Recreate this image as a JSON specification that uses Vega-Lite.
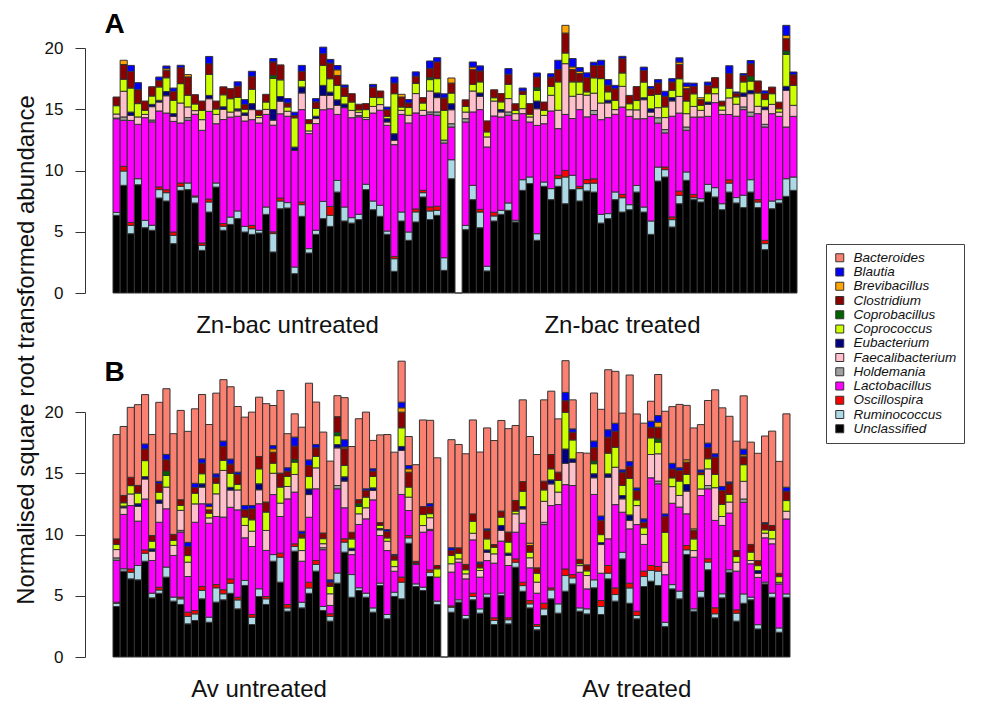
{
"$schema": "https://vega.github.io/schema/vega-lite/v6.json",
"background": "white",
"padding": {"left": 14, "top": 11, "right": 5, "bottom": 5},
"bounds": "flush",
"spacing": 119,
"config": {"view": {"stroke": null}, "font": "Liberation Sans", "axis": {"labelFont": "Liberation Sans", "titleFont": "Liberation Sans"}, "legend": {"labelFont": "Liberation Sans"}},
"resolve": {"scale": {"x": "independent", "y": "independent", "color": "shared"}},
"datasets": {
"genera": [
{"g":"U","genus":"Unclassified"},{"g":"Ru","genus":"Ruminococcus"},{"g":"O","genus":"Oscillospira"},{"g":"L","genus":"Lactobacillus"},{"g":"H","genus":"Holdemania"},{"g":"F","genus":"Faecalibacterium"},{"g":"E","genus":"Eubacterium"},{"g":"Cc","genus":"Coprococcus"},{"g":"Cb","genus":"Coprobacillus"},{"g":"Cl","genus":"Clostridium"},{"g":"Br","genus":"Brevibacillus"},{"g":"Bl","genus":"Blautia"},{"g":"Ba","genus":"Bacteroides"}
],
"a": [
{"i":0,"U":6.34,"Ru":0.24,"L":7.65,"H":0.05,"F":0.33,"Cc":0.68,"Cl":0.71},
{"i":1,"U":8.79,"Ru":1.17,"O":0.38,"L":3.76,"H":0.27,"F":2.1,"Cc":0.98,"Cl":1.2,"Br":0.35},
{"i":2,"U":4.84,"Ru":0.68,"O":0.24,"L":8.33,"F":0.41,"E":0.27,"Cc":1.96,"Cl":1.36,"Bl":0.49},
{"i":3,"U":8.84,"Ru":0.49,"L":4.44,"F":0.6,"Cc":1.09,"Cl":1.14,"Bl":0.57},
{"i":4,"U":5.33,"Ru":0.6,"L":8.38,"F":0.27,"Cc":0.33,"Cl":0.76},
{"i":5,"U":5.12,"Ru":0.41,"L":8.44,"H":0.15,"F":1.09,"E":0.19,"Cc":0.68,"Cl":0.76},
{"i":6,"U":7.76,"Ru":0.68,"O":0.22,"L":6.2,"F":0.73,"E":0.14,"Cc":1.09,"Cl":0.54,"Bl":0.27},
{"i":7,"U":7.51,"Ru":0.68,"O":0.24,"L":6.26,"F":1.41,"E":0.35,"Cc":1.12,"Cl":0.6,"Br":0.14,"Bl":0.22},
{"i":8,"U":4.03,"Ru":0.68,"O":0.27,"L":9.03,"F":0.41,"E":0.22,"Cc":1.09,"Cl":0.73,"Bl":0.27},
{"i":9,"U":8.38,"Ru":0.33,"O":0.27,"L":4.9,"F":1.63,"Cc":1.58,"Cl":1.31,"Bl":0.19},
{"i":10,"U":8.44,"Ru":0.54,"L":5.12,"H":0.22,"F":0.87,"Cc":0.95,"Cl":1.5,"Br":0.19},
{"i":11,"U":7.35,"Ru":0.49,"O":0.08,"L":6.67,"F":0.3,"Cc":0.54,"Cl":0.76},
{"i":12,"U":3.48,"Ru":0.41,"O":0.19,"L":9.2,"F":0.87,"Cc":0.76,"Cl":0.76},
{"i":13,"U":6.61,"Ru":0.82,"O":0.24,"L":7.16,"F":1.03,"E":0.27,"Cc":1.71,"Cl":0.87,"Bl":0.6},
{"i":14,"U":8.65,"Ru":0.33,"L":4.84,"F":0.76,"Cc":0.44,"Cl":0.65},
{"i":15,"U":5.12,"Ru":0.33,"O":0.22,"L":8.49,"F":0.82,"E":0.22,"Cc":0.98,"Cl":0.65},
{"i":16,"U":5.6,"Ru":0.6,"L":8.16,"F":0.41,"Cc":1.09,"Cl":0.82},
{"i":17,"U":6.07,"Ru":0.63,"L":7.73,"F":0.44,"E":0.16,"Cc":0.93,"Cl":0.93,"Bl":0.35},
{"i":18,"U":4.98,"Ru":0.46,"L":8.6,"F":0.46,"E":0.2,"Cc":0.3,"Cl":0.38,"Bl":0.41},
{"i":19,"U":4.79,"Ru":0.46,"O":0.27,"L":8.63,"F":0.82,"E":0.49,"Cc":1.17,"Cl":1.06,"Bl":0.41},
{"i":20,"U":4.9,"Ru":0.22,"L":8.76,"F":0.44,"Cc":0.19,"Cl":0.41},
{"i":21,"U":6.42,"Ru":0.6,"L":7.56,"F":0.41,"Cc":0.6,"Cl":0.63},
{"i":22,"U":3.35,"Ru":1.5,"O":0.14,"L":8.71,"F":0.41,"E":0.87,"Cc":2.53,"Cb":0.24,"Cl":1.12,"Bl":0.27},
{"i":23,"U":6.88,"Ru":0.63,"O":0.24,"L":6.88,"F":1.03,"E":0.38,"Cc":1.36,"Cl":1.22},
{"i":24,"U":6.94,"Ru":0.44,"L":7.05,"F":0.41,"Cc":0.35,"Cl":0.33,"Bl":0.35},
{"i":25,"U":1.58,"Ru":0.54,"L":9.52,"E":0.27,"Cc":2.39,"Cl":0.19,"Bl":0.27},
{"i":26,"U":6.26,"Ru":0.95,"O":0.22,"L":7.54,"F":1.36,"E":0.49,"Cc":0.54,"Cl":0.73,"Bl":0.49},
{"i":27,"U":3.27,"Ru":0.35,"L":9.39,"F":0.22,"Cc":0.6,"Cl":0.32},
{"i":28,"U":4.79,"Ru":0.33,"L":8.71,"F":0.41,"E":0.19,"Cc":0.63,"Cl":0.54,"Bl":0.27},
{"i":29,"U":6.07,"Ru":1.41,"L":7.48,"F":1.17,"E":0.82,"Cc":1.63,"Cl":0.95,"Bl":0.54},
{"i":30,"U":5.44,"Ru":0.9,"O":0.73,"L":7.97,"F":1.09,"E":0.27,"Cc":1.09,"Cl":1.28,"Bl":0.3},
{"i":31,"U":8.24,"Ru":0.95,"L":5.39,"F":0.73,"E":0.46,"Cc":1.17,"Cl":0.82,"Br":0.46,"Bl":0.35},
{"i":32,"U":5.88,"Ru":1.14,"L":8.11,"E":0.3,"Cc":0.63,"Cl":0.73,"Bl":0.19},
{"i":33,"U":5.71,"Ru":0.44,"L":8.16,"F":0.6,"Cc":0.68,"Cl":0.68},
{"i":34,"U":5.99,"Ru":0.44,"L":7.95,"H":0.1,"F":0.27,"Cc":0.2,"Cl":0.46},
{"i":35,"U":8.44,"Ru":0.44,"L":5.28,"F":0.16,"Cc":0.65,"Cl":0.49},
{"i":36,"U":6.8,"Ru":0.71,"L":7.18,"F":0.54,"Cc":0.73,"Cl":0.85,"Bl":0.22},
{"i":37,"U":6.26,"Ru":0.9,"L":7.76,"F":0.46,"Cc":0.57,"Cl":0.54},
{"i":38,"U":4.79,"Ru":0.27,"L":8.63,"F":0.27,"E":0.27,"Cc":0.19,"Cl":0.54,"Bl":0.22},
{"i":39,"U":1.77,"Ru":1.03,"O":0.19,"L":9.12,"F":0.35,"E":0.54,"Cc":3.27,"Cl":0.87,"Bl":0.49},
{"i":40,"U":5.88,"Ru":0.73,"L":7.97,"F":0.33,"Cc":0.27,"Cl":0.82,"Br":0.22},
{"i":41,"U":4.3,"Ru":0.68,"L":8.9,"F":0.63,"Cc":0.63,"Cl":0.38,"Bl":0.27},
{"i":42,"U":5.8,"Ru":0.82,"O":0.24,"L":7.84,"F":1.58,"Cc":0.82,"Cl":0.6,"Bl":0.35},
{"i":43,"U":7.84,"Ru":0.35,"O":0.19,"L":6.12,"F":0.41,"Cc":0.6,"Cl":0.44},
{"i":44,"U":5.99,"Ru":0.71,"O":0.33,"L":7.56,"H":0.19,"F":1.71,"Cc":0.93,"Cb":0.16,"Cl":0.76,"Bl":0.6},
{"i":45,"U":6.34,"Ru":0.41,"O":0.33,"L":7.43,"H":0.27,"F":1.17,"E":0.38,"Cc":1.17,"Cl":1.36,"Bl":0.35},
{"i":46,"U":1.85,"Ru":1.03,"L":9.36,"H":0.24,"Cc":2.42,"Cl":1.03,"Bl":0.33},
{"i":47,"U":9.33,"Ru":1.55,"L":2.67,"H":0.27,"F":1.14,"E":0.49,"Cc":0.87,"Cl":0.82,"Br":0.41},
{"i":48,"U":0},
{"i":49,"U":5.17,"Ru":0.35,"L":8.44,"H":0.27,"F":0.54,"Cc":0.46,"Cl":0.54},
{"i":50,"U":7.62,"Ru":1.17,"L":5.99,"F":1.71,"Cc":0.54,"Cl":1.2,"Br":0.22,"Bl":0.41},
{"i":51,"U":5.33,"Ru":1.28,"O":0.22,"L":8.14,"F":1.09,"E":0.27,"Cc":0.9,"Cl":0.9,"Bl":0.41},
{"i":52,"U":1.8,"Ru":0.38,"L":9.74,"F":0.82,"Cc":0.41,"Cl":0.9},
{"i":53,"U":5.88,"Ru":0.41,"O":0.3,"L":7.86,"F":1.22,"Cc":0.27,"Cl":0.65},
{"i":54,"U":6.42,"Ru":0.33,"L":7.62,"F":0.41,"E":0.19,"Cc":0.63,"Cl":0.68},
{"i":55,"U":6.75,"Ru":0.6,"L":7.16,"H":0.27,"F":1.09,"Cc":1.17,"Cl":0.82,"Bl":0.46},
{"i":56,"U":5.8,"Ru":0.14,"L":8.16,"F":0.54,"Cc":0.27,"Cl":0.54},
{"i":57,"U":8.38,"Ru":0.87,"L":5.39,"F":0.41,"Cc":1.17,"Cl":0.27,"Bl":0.24},
{"i":58,"U":8.93,"Ru":0.54,"L":4.49,"F":0.41,"Cc":0.22,"Cl":0.87},
{"i":59,"U":4.3,"Ru":0.54,"L":8.84,"F":1.36,"E":0.63,"Cc":0.87,"Cb":0.22,"Cl":0.87,"Bl":0.33},
{"i":60,"U":8.71,"Ru":0.35,"L":4.76,"F":0.68,"Cc":0.41,"Cl":0.68},
{"i":61,"U":7.62,"Ru":0.9,"L":6.34,"F":1.28,"Cc":0.73,"Cl":0.76,"Bl":0.27},
{"i":62,"U":8.71,"Ru":0.63,"O":0.27,"L":3.81,"F":1.5,"Cc":2.31,"Cl":1.01,"Bl":0.76},
{"i":63,"U":7.29,"Ru":2.18,"O":0.54,"L":4.57,"F":4.14,"Cc":0.87,"Cl":1.63,"Br":0.63},
{"i":64,"U":8.44,"Ru":1.17,"L":4.63,"F":1.82,"Cc":1.17,"Cl":1.01,"Br":0.22,"Bl":0.68},
{"i":65,"U":7.51,"Ru":1.01,"O":0.19,"L":6.26,"F":1.25,"Cc":1.01,"Cl":0.68,"Br":0.19,"Bl":0.3},
{"i":66,"U":8.33,"Ru":0.6,"O":0.33,"L":5.12,"F":1.77,"Cc":0.27,"Cl":1.17,"Bl":0.38},
{"i":67,"U":8.24,"Ru":0.73,"O":0.35,"L":5.25,"H":0.33,"F":1.41,"Cc":1.25,"Cl":1.01,"Bl":0.27},
{"i":68,"U":5.71,"Ru":0.71,"L":7.73,"F":1.36,"Cc":1.99,"Cl":1.09,"Bl":0.41},
{"i":69,"U":6.07,"Ru":0.41,"L":7.84,"F":1.2,"E":0.22,"Cc":0.68,"Cl":0.54,"Bl":0.46},
{"i":70,"U":7.62,"Ru":0.63,"L":6.34,"F":0.38,"Cc":0.76,"Cl":0.95,"Bl":0.27},
{"i":71,"U":6.61,"Ru":1.17,"O":0.27,"L":7.13,"F":1.69,"Cc":1.09,"Cl":1.17,"Bl":0.19},
{"i":72,"U":6.8,"Ru":0.41,"L":7.21,"F":0.54,"Cc":0.49,"Cl":0.68},
{"i":73,"U":8.24,"Ru":0.54,"L":5.44,"F":0.73,"Cc":0.76,"Cl":1.14},
{"i":74,"U":6.61,"Ru":0.41,"L":7.21,"F":1.55,"E":0.16,"Cc":1.28,"Cl":0.95,"Bl":0.27},
{"i":75,"U":4.79,"Ru":1.09,"L":8.54,"F":0.35,"E":0.27,"Cc":1.09,"Cl":0.54,"Bl":0.19},
{"i":76,"U":9.14,"Ru":1.14,"L":3.59,"H":0.44,"F":0.82,"Cc":1.09,"Cl":0.93,"Bl":0.27},
{"i":77,"U":9.47,"Ru":0.6,"O":0.22,"L":2.78,"H":0.27,"F":0.98,"Cc":0.87,"Cl":0.87,"Bl":0.41},
{"i":78,"U":5.39,"Ru":0.6,"O":0.22,"L":8.22,"F":1.25,"E":0.27,"Cc":0.6,"Cl":0.68,"Bl":0.27},
{"i":79,"U":7.29,"Ru":0.68,"O":0.35,"L":6.37,"F":1.36,"Cc":1.44,"Cl":1.17,"Br":0.19,"Bl":0.35},
{"i":80,"U":9.2,"Ru":0.68,"L":3.4,"H":0.27,"F":1.09,"Cc":1.03,"Cl":1.01,"Br":0.19,"Bl":0.27},
{"i":81,"U":7.62,"Ru":0.16,"O":0.27,"L":6.31,"F":0.87,"Cc":1.03,"Cl":0.6,"Bl":0.27},
{"i":82,"U":7.43,"Ru":0.27,"L":6.67,"F":0.54,"Cc":0.41,"Cl":0.46,"Br":0.16},
{"i":83,"U":8.24,"Ru":0.63,"L":5.55,"F":0.98,"E":0.19,"Cc":0.68,"Cl":0.68,"Bl":0.27},
{"i":84,"U":7.84,"Ru":0.76,"L":6.94,"F":0.73,"Cc":0.49,"Cl":0.82},
{"i":85,"U":6.8,"Ru":0.49,"L":7.29,"F":0.35,"Cc":0.35,"Cl":0.38},
{"i":86,"U":8.24,"Ru":0.73,"O":0.27,"L":5.33,"F":1.36,"Cc":0.79,"Cl":1.2,"Bl":0.63},
{"i":87,"U":7.35,"Ru":0.44,"L":6.64,"F":0.98,"Cc":0.6,"Cl":0.3,"Bl":0.1},
{"i":88,"U":6.97,"Ru":1.01,"L":6.99,"H":0.22,"F":0.87,"E":0.27,"Cc":0.9,"Cl":0.54,"Bl":0.14},
{"i":89,"U":8.24,"Ru":1.01,"L":5.17,"H":0.35,"F":1.5,"E":0.27,"Cc":0.76,"Cb":0.38,"Cl":1.03,"Bl":0.27},
{"i":90,"U":6.97,"Ru":0.46,"O":0.19,"L":7.02,"F":0.6,"Cc":1.09,"Cl":0.98},
{"i":91,"U":3.54,"Ru":0.49,"O":0.27,"L":9.25,"H":0.22,"F":1.2,"E":0.22,"Cc":0.6,"Cl":0.49,"Bl":0.22},
{"i":92,"U":6.88,"Ru":0.63,"L":7.13,"F":0.76,"Cc":0.87,"Cl":0.54},
{"i":93,"U":7.35,"Ru":0.27,"L":6.8,"F":0.35,"Cc":0.27,"Cl":0.54},
{"i":94,"U":7.89,"Ru":1.44,"L":4.22,"F":2.99,"E":0.33,"Cc":2.61,"Cb":0.27,"Cl":1.01,"Br":0.27,"Bl":0.82},
{"i":95,"U":8.38,"Ru":1.09,"L":4.95,"F":0.9,"Cc":1.63,"Cl":0.87,"Bl":0.22}
],
"b": [
{"i":0,"U":4.12,"Ru":0.27,"O":0.08,"L":3.43,"H":0.19,"F":0.68,"Cc":0.41,"Cl":0.46,"Ba":8.52},
{"i":1,"U":7.01,"Ru":0.19,"L":4.44,"F":0.54,"E":0.14,"Cc":0.27,"Cl":0.6,"Ba":5.63},
{"i":2,"U":6.38,"Ru":0.54,"O":0.27,"L":5.17,"F":0.95,"Cc":0.68,"Cl":0.68,"Ba":5.71},
{"i":3,"U":6.3,"Ru":1.17,"L":3.62,"F":1.2,"E":0.22,"Cc":0.87,"Cl":0.63,"Ba":6.59},
{"i":4,"U":7.82,"Ru":0.65,"O":0.27,"L":4.16,"F":1.63,"E":0.19,"Cc":1.31,"Cl":0.95,"Bl":0.41,"Ba":4.03},
{"i":5,"U":4.83,"Ru":0.38,"L":2.67,"F":0.76,"E":0.19,"Cc":0.63,"Cl":0.46,"Ba":8.24},
{"i":6,"U":5.2,"Ru":0.27,"O":0.22,"L":5.31,"F":1.55,"E":0.27,"Cc":0.63,"Cl":0.73,"Bl":0.16,"Ba":6.45},
{"i":7,"U":6.52,"Ru":0.82,"L":4.76,"F":1.77,"Cc":0.95,"Cb":0.35,"Cl":0.93,"Bl":0.44,"Ba":5.36},
{"i":8,"U":4.56,"Ru":0.33,"L":3.4,"F":0.82,"Cc":0.41,"Cl":0.49,"Ba":8.22},
{"i":9,"U":4.29,"Ru":0.46,"O":0.14,"L":5.31,"H":0.14,"F":1.63,"Cc":0.41,"Cl":0.46,"Ba":7.29},
{"i":10,"U":2.71,"Ru":0.6,"O":0.35,"L":2.91,"F":1.17,"Cc":0.54,"Cl":0.73,"Bl":0.35,"Ba":9.06},
{"i":11,"U":2.98,"Ru":0.54,"O":0.27,"L":7.21,"F":1.5,"Cc":0.87,"Cl":0.46,"Bl":0.35,"Ba":6.08},
{"i":12,"U":4.75,"Ru":0.68,"O":0.33,"L":6.75,"F":1.36,"E":0.27,"Cc":0.82,"Cl":0.87,"Bl":0.35,"Ba":5.25},
{"i":13,"U":2.84,"Ru":0.41,"L":7.67,"F":0.44,"Cc":0.38,"Cl":0.27,"Br":0.27,"Bl":0.22,"Ba":6.48},
{"i":14,"U":4.48,"Ru":1.17,"O":0.27,"L":5.55,"F":1.85,"Cc":0.87,"Cl":0.49,"Bl":0.27,"Ba":6.59},
{"i":15,"U":4.67,"Ru":0.49,"O":0.33,"L":5.93,"F":3.81,"Cc":0.82,"Cl":1.14,"Bl":0.44,"Ba":5.01},
{"i":16,"U":5.2,"Ru":0.82,"O":0.35,"L":5.85,"F":1.41,"E":0.22,"Cc":1.14,"Cl":0.76,"Bl":0.41,"Ba":5.9},
{"i":17,"U":3.93,"Ru":0.73,"O":0.22,"L":7.13,"F":1.63,"Cc":0.44,"Cl":0.82,"Bl":0.19,"Ba":5.36},
{"i":18,"U":5.84,"Ru":0.41,"L":3.48,"F":1.01,"Cc":0.68,"Cl":0.6,"Bl":0.35,"Ba":7.21},
{"i":19,"U":2.65,"Ru":0.6,"O":0.22,"L":5.55,"F":1.25,"Cc":0.93,"Cl":0.9,"Bl":0.27,"Ba":7.62},
{"i":20,"U":4.94,"Ru":0.63,"L":6.94,"F":1.14,"E":0.49,"Cc":1.22,"Cl":1.01,"Ba":4.84},
{"i":21,"U":4.29,"Ru":0.46,"O":0.19,"L":3.76,"F":1.63,"Cc":1.5,"Cl":0.82,"Ba":8.03},
{"i":22,"U":7.82,"Ru":0.54,"L":4.9,"F":1.74,"Cc":0.82,"Cl":0.9,"Br":0.27,"Bl":0.27,"Ba":3.27},
{"i":23,"U":6.11,"Ru":2.04,"O":0.33,"L":2.99,"F":1.09,"Cc":1.31,"Cl":1.14,"Ba":6.75},
{"i":24,"U":3.74,"Ru":0.27,"O":0.27,"L":8.63,"F":1.01,"Cc":0.82,"Cl":0.44,"Bl":0.27,"Ba":2.78},
{"i":25,"U":8.64,"Ru":0.38,"O":0.22,"L":4.22,"F":1.44,"Cc":1.01,"Cb":0.22,"Cl":1.09,"Bl":0.73,"Ba":1.9},
{"i":26,"U":4.01,"Ru":0.46,"L":3.35,"F":0.87,"Cc":1.03,"Cl":0.33,"Bl":0.22,"Ba":8.49},
{"i":27,"U":5.2,"Ru":0.44,"O":0.46,"L":5.31,"F":1.85,"E":0.46,"Cc":1.01,"Cl":0.9,"Bl":0.46,"Ba":6.26},
{"i":28,"U":7.01,"Ru":0.54,"O":0.33,"L":5.85,"F":1.71,"Cc":0.93,"Cl":0.71,"Bl":0.27,"Ba":3.46},
{"i":29,"U":3.8,"Ru":0.33,"L":4.63,"H":0.16,"F":0.33,"Cc":0.41,"Cl":0.46,"Ba":8.24},
{"i":30,"U":2.93,"Ru":0.38,"O":0.22,"L":0.68,"F":0.95,"Cc":0.6,"Cl":0.35,"Bl":0.19,"Ba":9.69},
{"i":31,"U":6.03,"Ru":0.82,"L":6.88,"H":0.27,"F":3.07,"E":0.27,"Cc":0.73,"Cb":0.27,"Cl":1.28,"Ba":1.71},
{"i":32,"U":8.56,"Ru":0.82,"O":0.27,"L":2.53,"F":2.18,"E":0.35,"Cc":0.93,"Cl":1.36,"Br":0.14,"Bl":0.6,"Ba":3.43},
{"i":33,"U":4.88,"Ru":1.85,"L":1.63,"F":0.33,"E":0.19,"Cc":0.76,"Cl":0.54,"Ba":7.0},
{"i":34,"U":5.43,"Ru":0.22,"L":5.17,"F":0.87,"Cc":0.6,"Cb":0.22,"Cl":0.33,"Ba":6.61},
{"i":35,"U":4.88,"Ru":0.33,"L":6.07,"F":0.9,"Cc":0.87,"Cl":0.54,"Bl":0.14,"Ba":6.26},
{"i":36,"U":3.66,"Ru":0.35,"L":8.82,"F":0.76,"E":0.22,"Cc":0.93,"Cl":0.44,"Bl":0.19,"Ba":2.31},
{"i":37,"U":5.84,"Ru":0.19,"L":3.89,"F":0.46,"E":0.1,"Cc":0.27,"Cl":0.22,"Ba":7.16},
{"i":38,"U":3.12,"Ru":0.35,"L":5.22,"F":0.76,"Cc":0.27,"Cl":0.54,"Bl":0.14,"Ba":7.76},
{"i":39,"U":4.94,"Ru":0.35,"L":1.71,"F":0.38,"Cc":0.54,"Cl":0.35,"Bl":0.1,"Ba":8.35},
{"i":40,"U":4.75,"Ru":1.36,"O":0.41,"L":6.75,"F":3.59,"E":0.33,"Cc":1.52,"Cl":1.28,"Br":0.35,"Bl":0.46,"Ba":3.35},
{"i":41,"U":9.29,"Ru":0.44,"O":0.19,"L":2.04,"F":1.09,"Cc":0.82,"Cl":1.22,"Br":0.27,"Bl":0.27,"Ba":2.37},
{"i":42,"U":5.75,"Ru":0.22,"L":1.58,"F":0.1,"Cl":0.16,"Ba":7.89},
{"i":43,"U":5.43,"Ru":0.27,"L":4.49,"F":0.54,"Cc":0.9,"Cl":0.65,"Ba":7.07},
{"i":44,"U":6.57,"Ru":0.35,"O":0.19,"L":3.21,"H":0.1,"F":0.95,"Cc":0.33,"Cl":0.6,"Bl":0.22,"Ba":6.8},
{"i":45,"U":4.29,"Ru":0.27,"L":1.96,"Cc":0.68,"Cl":0.27,"Ba":8.79},
{"i":46,"U":0},
{"i":47,"U":3.66,"Ru":0.41,"O":0.1,"L":2.76,"F":0.68,"Cc":0.68,"Cl":0.41,"Bl":0.22,"Ba":8.82},
{"i":48,"U":4.48,"Ru":0.19,"L":3.07,"F":0.27,"Cc":0.46,"Cl":0.44,"Ba":8.44},
{"i":49,"U":3.12,"Ru":0.27,"L":2.99,"F":0.41,"Cc":0.33,"Cl":0.44,"Ba":9.03},
{"i":50,"U":4.67,"Ru":0.27,"O":0.27,"L":4.35,"F":0.54,"Cc":0.98,"Cl":0.6,"Ba":7.67},
{"i":51,"U":3.58,"Ru":0.35,"L":2.59,"F":0.54,"Cc":0.22,"Cl":0.33,"Bl":0.14,"Ba":8.98},
{"i":52,"U":4.88,"Ru":0.27,"L":2.72,"F":0.68,"E":0.19,"Cc":0.9,"Cl":0.68,"Bl":0.14,"Ba":8.24},
{"i":53,"U":2.65,"Ru":0.33,"O":0.22,"L":4.46,"F":0.76,"Cc":0.54,"Cl":0.22,"Ba":8.49},
{"i":54,"U":5.03,"Ru":0.19,"L":4.24,"F":0.87,"E":0.41,"Cc":0.68,"Cl":0.49,"Ba":7.4},
{"i":55,"U":2.71,"Ru":0.33,"O":0.16,"L":4.27,"F":0.82,"E":0.19,"Cc":0.9,"Cl":0.82,"Ba":8.44},
{"i":56,"U":7.33,"Ru":0.41,"O":0.27,"L":2.18,"F":1.5,"Cc":0.22,"Cl":0.87,"Ba":6.12},
{"i":57,"U":5.37,"Ru":0.46,"O":0.27,"L":4.82,"F":1.17,"E":0.19,"Cc":1.25,"Cl":0.79,"Ba":6.67},
{"i":58,"U":4.01,"Ru":0.33,"O":0.27,"L":2.67,"F":0.82,"Cc":0.46,"Cl":0.54,"Br":0.19,"Ba":8.71},
{"i":59,"U":2.22,"Ru":0.27,"O":0.16,"L":2.56,"F":0.9,"Cc":0.73,"Cl":0.44,"Ba":9.25},
{"i":60,"U":3.39,"Ru":0.54,"O":0.46,"L":6.42,"H":0.19,"F":1.71,"Cc":0.93,"Cl":0.71,"Ba":6.64},
{"i":61,"U":4.75,"Ru":0.73,"O":0.16,"L":6.72,"F":1.77,"E":0.33,"Cc":0.9,"Cl":1.17,"Ba":5.17},
{"i":62,"U":3.58,"Ru":0.76,"L":8.11,"F":1.01,"Cc":0.95,"Cl":0.68,"Ba":4.35},
{"i":63,"U":5.37,"Ru":1.28,"O":0.54,"L":6.88,"F":1.74,"E":1.17,"Cc":2.99,"Cl":0.95,"Bl":0.68,"Ba":2.59},
{"i":64,"U":5.97,"Ru":0.49,"O":0.27,"L":7.27,"F":1.9,"E":0.27,"Cc":1.55,"Cl":0.63,"Bl":0.27,"Ba":2.37},
{"i":65,"U":3.74,"Ru":0.27,"L":2.91,"F":0.54,"Cc":0.16,"Cl":0.35,"Ba":8.71},
{"i":66,"U":3.52,"Ru":0.41,"L":1.63,"F":1.09,"Cc":0.38,"Cl":0.49,"Ba":9.12},
{"i":67,"U":5.65,"Ru":0.65,"L":6.97,"F":1.36,"E":0.33,"Cc":0.82,"Cb":0.22,"Cl":1.09,"Bl":0.54,"Ba":3.92},
{"i":68,"U":3.47,"Ru":0.65,"O":0.49,"L":2.23,"F":2.34,"E":0.16,"Cc":0.65,"Cl":1.17,"Bl":0.35,"Ba":8.71},
{"i":69,"U":6.38,"Ru":0.46,"O":0.63,"L":2.18,"F":5.03,"E":0.27,"Cc":1.69,"Cl":1.31,"Bl":0.6,"Ba":4.9},
{"i":70,"U":4.56,"Ru":0.54,"O":0.54,"L":6.8,"F":3.05,"Cc":1.63,"Cl":1.31,"Bl":0.65,"Ba":4.24},
{"i":71,"U":8.01,"Ru":0.54,"L":3.27,"F":1.09,"E":0.27,"Cc":0.82,"Cl":1.09,"Bl":0.19,"Ba":4.63},
{"i":72,"U":4.39,"Ru":1.25,"O":0.38,"L":4.44,"F":0.68,"E":0.46,"Cc":2.99,"Cl":0.98,"Bl":0.38,"Ba":7.07},
{"i":73,"U":3.12,"Ru":0.27,"O":0.35,"L":7.07,"F":1.55,"Cc":0.46,"Cl":0.76,"Bl":0.22,"Ba":6.04},
{"i":74,"U":5.75,"Ru":0.82,"O":0.44,"L":2.18,"F":0.82,"Cc":0.54,"Cl":0.46,"Bl":0.27,"Ba":7.81},
{"i":75,"U":6.19,"Ru":0.87,"O":0.41,"L":7.16,"F":1.9,"Cc":1.36,"Cl":0.87,"Bl":0.49,"Ba":1.63},
{"i":76,"U":5.84,"Ru":1.17,"O":0.38,"L":6.75,"H":0.22,"F":2.23,"Cc":0.95,"Cb":0.27,"Cl":0.95,"Br":0.41,"Bl":0.54,"Ba":3.35},
{"i":77,"U":2.48,"Ru":0.35,"L":3.89,"F":1.01,"Cc":2.45,"Cl":1.28,"Bl":0.22,"Ba":8.38},
{"i":78,"U":5.56,"Ru":0.35,"L":6.64,"F":1.36,"Cc":0.71,"Cl":0.73,"Bl":0.46,"Ba":4.63},
{"i":79,"U":4.75,"Ru":0.63,"L":6.86,"F":0.95,"Cc":1.17,"Cl":0.87,"Bl":0.22,"Ba":5.17},
{"i":80,"U":8.37,"Ru":0.38,"O":0.35,"L":2.59,"F":1.85,"E":0.54,"Cc":0.82,"Cl":1.01,"Br":0.19,"Ba":4.44},
{"i":81,"U":3.74,"Ru":0.19,"L":4.22,"F":0.54,"Cc":0.95,"Cl":0.68,"Br":0.14,"Ba":8.24},
{"i":82,"U":4.88,"Ru":0.49,"L":7.81,"F":0.54,"Cc":1.17,"Cl":0.19,"Bl":0.19,"Ba":3.7},
{"i":83,"U":7.12,"Ru":0.63,"O":0.27,"L":5.71,"H":0.27,"F":1.36,"Cc":0.82,"Cl":0.9,"Bl":0.38,"Ba":3.48},
{"i":84,"U":3.2,"Ru":0.33,"O":0.49,"L":7.13,"F":2.67,"Cc":1.09,"Cl":1.41,"Bl":0.27,"Ba":5.22},
{"i":85,"U":4.83,"Ru":0.33,"L":5.58,"F":0.73,"Cc":0.98,"Cl":1.14,"Bl":0.33,"Ba":6.42},
{"i":86,"U":6.93,"Ru":0.19,"L":4.63,"F":0.9,"Cc":0.63,"Cl":0.87,"Bl":0.14,"Ba":5.36},
{"i":87,"U":2.93,"Ru":0.65,"O":0.27,"L":3.16,"F":0.73,"Cc":0.46,"Cl":0.49,"Ba":8.93},
{"i":88,"U":4.39,"Ru":0.76,"L":7.48,"H":0.27,"F":1.44,"Cc":1.36,"Cl":0.65,"Br":0.16,"Bl":0.46,"Ba":4.35},
{"i":89,"U":4.67,"Ru":0.22,"L":2.72,"F":0.27,"Cc":0.68,"Cl":0.63,"Ba":8.35},
{"i":90,"U":2.29,"Ru":0.35,"L":3.86,"F":0.33,"E":0.22,"Cc":0.41,"Cl":0.41,"Ba":8.76},
{"i":91,"U":5.97,"Ru":0.14,"L":3.62,"F":0.38,"Cc":0.27,"Cl":0.49,"Bl":0.1,"Ba":7.07},
{"i":92,"U":4.88,"Ru":0.33,"L":4.03,"F":0.41,"Cc":0.68,"Cl":0.41,"Ba":7.7},
{"i":93,"U":2.02,"Ru":0.35,"L":3.59,"H":0.14,"Cc":0.46,"Cl":0.27,"Ba":9.14},
{"i":94,"U":4.88,"Ru":0.27,"L":6.12,"F":0.63,"Cc":0.87,"Cl":0.76,"Bl":0.33,"Ba":5.99}
]
},
"vconcat": [
{
"width": 684, "height": 245,
"layer": [
{
"data": {"name": "a"},
"transform": [
{"fold": ["U","Ru","O","L","H","F","E","Cc","Cb","Cl","Br","Bl","Ba"], "as": ["g","value"]},
{"filter": "isValid(datum.value)"},
{"lookup": "g", "from": {"data": {"name": "genera"}, "key": "g", "fields": ["genus"]}}
],
"mark": {"type": "bar", "stroke": "#333333", "strokeWidth": 1},
"encoding": {
"x": {"field": "i", "type": "ordinal", "scale": {"paddingInner": 0, "paddingOuter": 0},
 "axis": {"values": [24, 71], "bandPosition": 0, "labelExpr": "datum.value == 24 ? 'Zn-bac untreated' : 'Zn-bac treated'", "ticks": false, "domain": false, "labelAngle": 0, "labelFontSize": 24, "labelPadding": 20, "labelLimit": 0, "labelColor": "#111111", "labelOverlap": false, "title": null}},
"y": {"field": "value", "type": "quantitative", "stack": "zero", "scale": {"domain": [0, 20], "nice": false},
 "axis": {"values": [0, 5, 10, 15, 20], "offset": 28, "grid": false, "tickSize": 10, "tickColor": "#333333", "domainColor": "#333333", "labelFontSize": 17, "labelPadding": 12, "labelColor": "#111111", "title": "Normalised square root transformed abundance", "titleFontSize": 24, "titleFontWeight": "normal", "titleColor": "#111111", "titleY": 301.5, "titlePadding": 6}},
"color": {"field": "genus", "type": "nominal",
 "scale": {"domain": ["Bacteroides","Blautia","Brevibacillus","Clostridium","Coprobacillus","Coprococcus","Eubacterium","Faecalibacterium","Holdemania","Lactobacillus","Oscillospira","Ruminococcus","Unclassified"],
  "range": ["#FA8072","#0000FF","#FFA500","#8B0000","#006400","#CCFF00","#000080","#FFC0CB","#A0A0A0","#FF00FF","#FF0000","#ADD8E6","#000000"]},
 "legend": {"orient": "none", "legendX": 713, "legendY": 196, "title": null, "labelFontStyle": "italic", "labelFontSize": 13.5, "labelColor": "#111111", "symbolType": "square", "symbolSize": 64, "symbolStrokeColor": "#333333", "symbolStrokeWidth": 1, "strokeColor": "#444444", "fillColor": "white", "padding": 7, "rowPadding": -0.75, "labelOffset": 7}},
"order": {"field": "genus", "sort": "descending"}
}
},
{
"data": {"values": [{"t": "A"}]},
"mark": {"type": "text", "fontSize": 28, "fontWeight": "bold", "align": "left", "baseline": "alphabetic", "dx": -12, "color": "#000000"},
"encoding": {"x": {"datum": 0, "type": "ordinal"}, "y": {"datum": 21.2, "type": "quantitative"}, "text": {"field": "t"}}
}
]
},
{
"width": 677, "height": 245,
"layer": [
{
"data": {"name": "b"},
"transform": [
{"fold": ["U","Ru","O","L","H","F","E","Cc","Cb","Cl","Br","Bl","Ba"], "as": ["g","value"]},
{"filter": "isValid(datum.value)"},
{"lookup": "g", "from": {"data": {"name": "genera"}, "key": "g", "fields": ["genus"]}}
],
"mark": {"type": "bar", "stroke": "#333333", "strokeWidth": 1},
"encoding": {
"x": {"field": "i", "type": "ordinal", "scale": {"paddingInner": 0, "paddingOuter": 0},
 "axis": {"values": [20, 73], "bandPosition": 0, "labelExpr": "datum.value == 20 ? 'Av untreated' : 'Av treated'", "ticks": false, "domain": false, "labelAngle": 0, "labelFontSize": 24, "labelPadding": 20, "labelLimit": 0, "labelColor": "#111111", "labelOverlap": false, "title": null}},
"y": {"field": "value", "type": "quantitative", "stack": "zero", "scale": {"domain": [0, 20], "nice": false},
 "axis": {"values": [0, 5, 10, 15, 20], "offset": 28, "grid": false, "tickSize": 10, "tickColor": "#333333", "domainColor": "#333333", "labelFontSize": 17, "labelPadding": 12, "labelColor": "#111111", "title": null}},
"color": {"field": "genus", "type": "nominal",
 "scale": {"domain": ["Bacteroides","Blautia","Brevibacillus","Clostridium","Coprobacillus","Coprococcus","Eubacterium","Faecalibacterium","Holdemania","Lactobacillus","Oscillospira","Ruminococcus","Unclassified"],
  "range": ["#FA8072","#0000FF","#FFA500","#8B0000","#006400","#CCFF00","#000080","#FFC0CB","#A0A0A0","#FF00FF","#FF0000","#ADD8E6","#000000"]},
 "legend": {"orient": "none", "legendX": 713, "legendY": 196, "title": null, "labelFontStyle": "italic", "labelFontSize": 13.5, "labelColor": "#111111", "symbolType": "square", "symbolSize": 64, "symbolStrokeColor": "#333333", "symbolStrokeWidth": 1, "strokeColor": "#444444", "fillColor": "white", "padding": 7, "rowPadding": -0.75, "labelOffset": 7}},
"order": {"field": "genus", "sort": "descending"}
}
},
{
"data": {"values": [{"t": "B"}]},
"mark": {"type": "text", "fontSize": 28, "fontWeight": "bold", "align": "left", "baseline": "alphabetic", "dx": -12, "color": "#000000"},
"encoding": {"x": {"datum": 0, "type": "ordinal"}, "y": {"datum": 22.57, "type": "quantitative"}, "text": {"field": "t"}}
}
]
}
]
}
